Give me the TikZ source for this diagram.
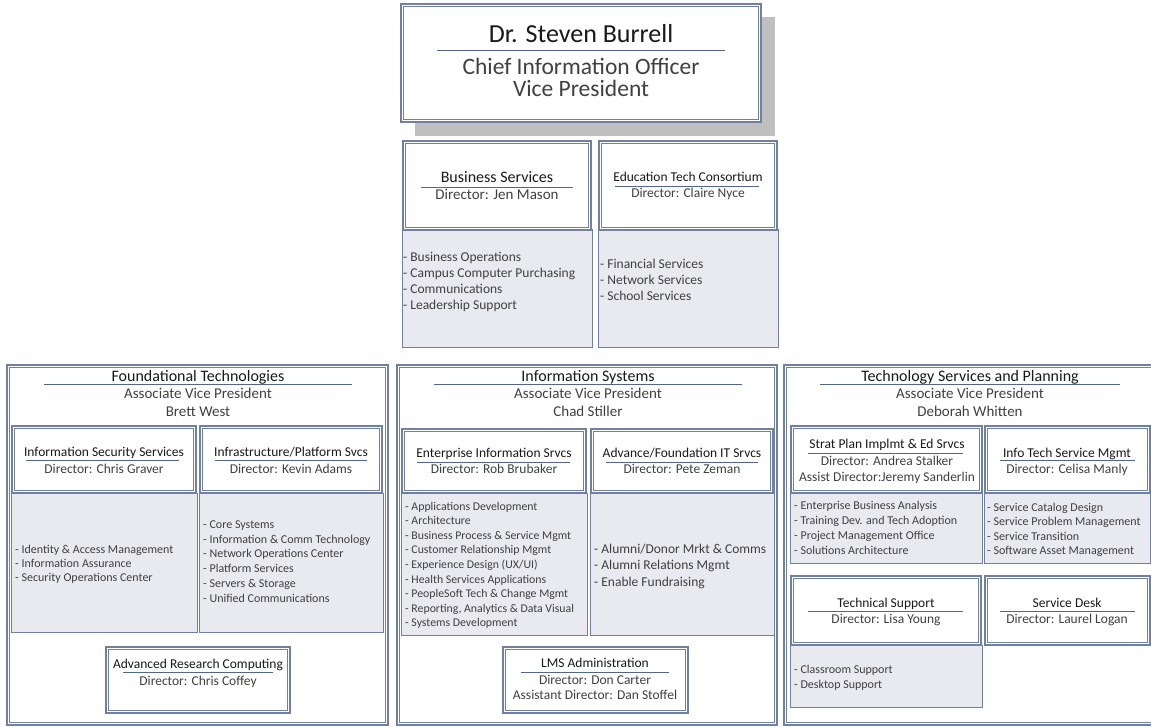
\documentclass[tikz,border=0pt]{standalone}
\usepackage{fontspec}
\setmainfont{Carlito}
\definecolor{framecol}{RGB}{112,128,160}
\definecolor{rulecol}{RGB}{84,102,135}
\definecolor{listfill}{RGB}{233,233,240}
\definecolor{shadowcol}{RGB}{191,191,191}
\definecolor{titlecol}{RGB}{25,25,25}
\definecolor{bodycol}{RGB}{64,64,64}
\newcommand{\fs}[2]{\fontsize{#1}{#2}\selectfont}
\newcommand{\dblbox}[2]{%
	\draw[dout] (#1) rectangle (#2);
	\draw[din] ([xshift=2.3pt, yshift=-2.3pt]#1) rectangle ([xshift=-2.3pt, yshift=2.3pt]#2);}

\begin{document}
\begin{tikzpicture}[x=1pt, y=-1pt,
	dout/.style={draw=framecol, fill=white, line width=1.3pt},
	din/.style={draw=framecol, line width=0.7pt},
	lbox/.style={draw=framecol, fill=listfill, line width=1pt},
	uline/.style={draw=rulecol, line width=0.9pt},
	head/.style={anchor=base, inner sep=0pt, text=titlecol, font=\fs{13.5}{16}},
	sub/.style={anchor=base, inner sep=0pt, text=bodycol, font=\fs{13.5}{16}},
	items/.style={anchor=north west, inner sep=0pt, align=left, text=bodycol}]
	\useasboundingbox (0,0) rectangle (1151,727);

	% CIO
	\fill[shadowcol] (415,17) rectangle (775,136);
	\dblbox{401,4}{761,122}
	\node[head, font=\fs{26}{30}] (cio) at (581,43) {Dr. Steven Burrell};
	\draw[uline] (437,50) -- (725,50);
	\node[sub, font=\fs{23.5}{23}] (ciorole) at (581,75) {Chief Information Officer};
	\node[sub, font=\fs{23.5}{23}] (ciovp) at (581,97) {Vice President};

	% business services and consortium
	\draw[lbox] (402,230) rectangle (592,347);
	\dblbox{403,141}{591,230}
	\node[head, font=\fs{16}{18}] (bs) at (497,183) {Business Services};
	\draw[uline] (421,187) -- (573,187);
	\node[sub, font=\fs{15}{18}] (bsdir) at (497,200) {Director: Jen Mason};
	\node[items, font=\fs{13.5}{16.3}] (bslist) at (403,251.5) {- Business Operations\\- Campus Computer Purchasing\\- Communications\\- Leadership Support};

	\draw[lbox] (598,230) rectangle (778,347);
	\dblbox{599,141}{777,230}
	\node[head] (etc) at (688,182) {Education Tech Consortium};
	\draw[uline] (615,186) -- (759,186);
	\node[sub] (etcdir) at (688,198) {Director: Claire Nyce};
	\node[items, font=\fs{13.5}{16.3}] (etclist) at (600,258.5) {- Financial Services\\- Network Services\\- School Services};

	% Foundational Technologies
	\dblbox{7,365}{388,725}
	\node[head, font=\fs{16}{18}] (ft) at (198,381) {Foundational Technologies};
	\draw[uline] (44,384) -- (352,384);
	\node[sub, font=\fs{15}{18}] (ftavp) at (198,398) {Associate Vice President};
	\node[sub, font=\fs{15}{18}] (ftname) at (198,416) {Brett West};

	\draw[lbox] (11,493) rectangle (197,632);
	\dblbox{12,426}{196,493}
	\node[head] (iss) at (104,456) {Information Security Services};
	\draw[uline] (26,460) -- (179,460);
	\node[sub] (issdir) at (104,473) {Director: Chris Graver};
	\node[items, font=\fs{12}{14}] (isslist) at (15,544.6) {- Identity \& Access Management\\- Information Assurance\\- Security Operations Center};

	\draw[lbox] (199,493) rectangle (383,632);
	\dblbox{200,426}{382,493}
	\node[head] (ips) at (291,456) {Infrastructure/Platform Svcs};
	\draw[uline] (215,460) -- (367,460);
	\node[sub] (ipsdir) at (291,473) {Director: Kevin Adams};
	\node[items, font=\fs{12}{14.7}] (ipslist) at (203,520.6) {- Core Systems\\- Information \& Comm Technology\\- Network Operations Center\\- Platform Services\\- Servers \& Storage\\- Unified Communications};

	\dblbox{106,647}{290,713}
	\node[head] (arc) at (198,668) {Advanced Research Computing};
	\draw[uline] (123,672) -- (273,672);
	\node[sub] (arcdir) at (198,685) {Director: Chris Coffey};

	% Information Systems
	\dblbox{397,365}{777,725}
	\node[head, font=\fs{16}{18}] (is) at (588,381) {Information Systems};
	\draw[uline] (434,384) -- (742,384);
	\node[sub, font=\fs{15}{18}] (isavp) at (588,398) {Associate Vice President};
	\node[sub, font=\fs{15}{18}] (isname) at (588,416) {Chad Stiller};

	\draw[lbox] (401,493) rectangle (587,635);
	\dblbox{402,429}{586,493}
	\node[head] (eis) at (494,457) {Enterprise Information Srvcs};
	\draw[uline] (417,462) -- (570,462);
	\node[sub] (eisdir) at (494,473) {Director: Rob Brubaker};
	\node[items, font=\fs{11.8}{14.6}] (eislist) at (405,501.8) {- Applications Development\\- Architecture\\- Business Process \& Service Mgmt\\- Customer Relationship Mgmt\\- Experience Design (UX/UI)\\- Health Services Applications\\- PeopleSoft Tech \& Change Mgmt\\- Reporting, Analytics \& Data Visual\\- Systems Development};

	\draw[lbox] (590,493) rectangle (774,635);
	\dblbox{591,429}{773,493}
	\node[head] (afit) at (682,457) {Advance/Foundation IT Srvcs};
	\draw[uline] (606,462) -- (758,462);
	\node[sub] (afitdir) at (682,473) {Director: Pete Zeman};
	\node[items, font=\fs{13.5}{16.5}] (afitlist) at (594,543.5) {- Alumni/Donor Mrkt \& Comms\\- Alumni Relations Mgmt\\- Enable Fundraising};

	\dblbox{503,647}{688,713}
	\node[head] (lms) at (595,667) {LMS Administration};
	\draw[uline] (521,672) -- (669,672);
	\node[sub] (lmsdir) at (595,684) {Director: Don Carter};
	\node[sub] (lmsasst) at (595,699) {Assistant Director: Dan Stoffel};

	% Technology Services and Planning
	\dblbox{784,365}{1160,725}
	\node[head, font=\fs{16}{18}] (tsp) at (970,381) {Technology Services and Planning};
	\draw[uline] (820,384) -- (1120,384);
	\node[sub, font=\fs{15}{18}] (tspavp) at (970,398) {Associate Vice President};
	\node[sub, font=\fs{15}{18}] (tspname) at (970,416) {Deborah Whitten};

	\draw[lbox] (790,493) rectangle (982,563);
	\dblbox{791,426}{982,493}
	\node[head] (spi) at (887,448) {Strat Plan Implmt \& Ed Srvcs};
	\draw[uline] (808,453) -- (963,453);
	\node[sub] (spidir) at (887,465) {Director: Andrea Stalker};
	\node[sub] (spiasst) at (887,481) {Assist Director:Jeremy Sanderlin};
	\node[items, font=\fs{12}{15}] (spilist) at (794,500.6) {- Enterprise Business Analysis\\- Training Dev. and Tech Adoption\\- Project Management Office\\- Solutions Architecture};

	\draw[lbox] (984,493) rectangle (1150,563);
	\dblbox{985,426}{1150,493}
	\node[head] (itsm) at (1067,457) {Info Tech Service Mgmt};
	\draw[uline] (1000,460) -- (1135,460);
	\node[sub] (itsmdir) at (1067,473) {Director: Celisa Manly};
	\node[items, font=\fs{12}{14.5}] (itsmlist) at (987,502.6) {- Service Catalog Design\\- Service Problem Management\\- Service Transition\\- Software Asset Management};

	\draw[lbox] (790,645) rectangle (982,707);
	\dblbox{791,576}{981,645}
	\node[head] (tsu) at (886,607) {Technical Support};
	\draw[uline] (808,611) -- (963,611);
	\node[sub] (tsudir) at (886,623) {Director: Lisa Young};
	\node[items, font=\fs{12}{15}] (tsulist) at (794,664.6) {- Classroom Support\\- Desktop Support};

	\dblbox{985,576}{1150,645}
	\node[head] (sd) at (1067,607) {Service Desk};
	\draw[uline] (1000,611) -- (1135,611);
	\node[sub] (sddir) at (1067,623) {Director: Laurel Logan};
\end{tikzpicture}
\end{document}
